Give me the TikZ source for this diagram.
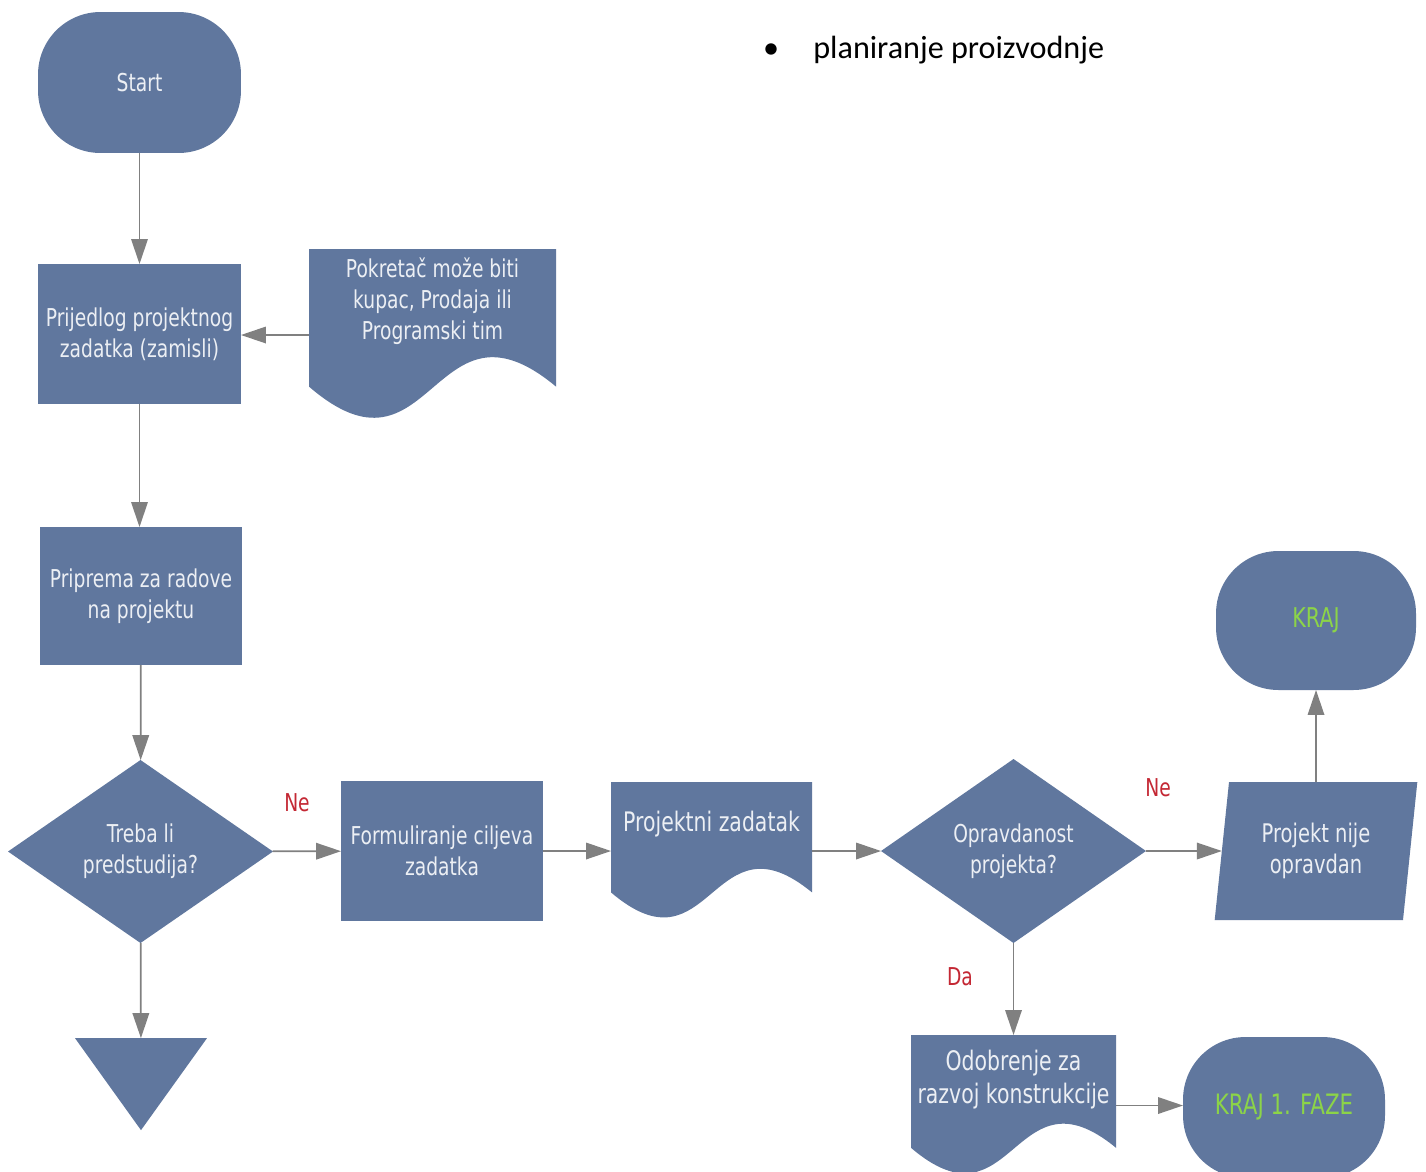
\documentclass[tikz,border=0pt]{standalone}
\usepackage{fontspec}
\newfontfamily\boxfont[FakeStretch=0.76]{DejaVu Sans}
\newfontfamily\bodyfont{Carlito}
\usetikzlibrary{arrows.meta,calc,shapes.geometric}

\definecolor{boxblue}{RGB}{96,119,158}
\definecolor{boxtext}{RGB}{236,239,244}
\definecolor{endgreen}{RGB}{140,212,72}
\definecolor{labelred}{RGB}{196,40,52}
\definecolor{linegray}{RGB}{128,128,128}

\newcommand\boxsize{\boxfont\fontsize{14}{17.8}\selectfont}
\newcommand\bigbox{\boxfont\fontsize{15.3}{18.6}\selectfont}
% Dokument mit Welle unten (Einheitsquadrat)
\newcommand\docwave{(0,0) -- (1,0) -- (1,.8) .. controls (.5,.2) and (.5,1.42) .. (0,.8) -- cycle}

\tikzset{
  base/.style={fill=boxblue, text=boxtext, font=\boxsize, align=center, inner sep=0pt, outer sep=0pt},
  terminal/.style={base, rectangle, rounded corners=1.25cm, minimum width=4.06cm, minimum height=2.82cm},
  process/.style={base, rectangle, minimum width=4.06cm, minimum height=2.8cm},
  decision/.style={base, diamond, minimum width=5.3cm, minimum height=3.66cm},
  inout/.style={base, trapezium, trapezium left angle=81, trapezium right angle=99,
    trapezium stretches=true, minimum width=4.08cm, minimum height=2.76cm},
  offpage/.style={base, isosceles triangle, isosceles triangle stretches, shape border rotate=-90,
    minimum width=2.64cm, minimum height=1.84cm},
  docbox/.style={rectangle, inner sep=0pt, outer sep=0pt},
  doctext/.style={text=boxtext, font=\boxsize, align=center, inner sep=0pt},
  answer/.style={text=labelred, font=\boxsize, inner sep=0pt},
  flow/.style={draw=linegray, line width=1pt, -{Triangle[length=5mm,width=3.3mm]}},
}

\begin{document}
\begin{tikzpicture}[x=0.02cm,y=-0.02cm]
  \clip (0,0) rectangle (1426,1171);
  \fill[white] (0,0) rectangle (1426,1171);

  % Text oben rechts
  \node[font=\bodyfont\fontsize{18.3}{22}\selectfont, anchor=base, inner sep=0pt] (bullet) at (771,58) {•};
  \node[font=\bodyfont\fontsize{18.3}{22}\selectfont, anchor=base west, inner sep=0pt] (plan) at (813,58) {planiranje proizvodnje};

  % linke Spalte
  \node[terminal] (start) at (139.5,82.5) {Start};
  \node[process] (prijedlog) at (139.5,334) {Prijedlog projektnog\\zadatka (zamisli)};
  \node[process, minimum width=4.04cm, minimum height=2.76cm] (priprema) at (141,596) {Priprema za radove\\na projektu};
  \node[decision] (predstudija) at (140.5,851.5) {Treba li\\predstudija?};
  \node[offpage] (trokut) at (141,1072) {};

  % Dokument: Pokretac
  \node[docbox, minimum width=4.94cm, minimum height=3.44cm] (pokretac) at (432.5,335) {};
  \fill[boxblue, shift={(pokretac.north west)}, xscale=247, yscale=172] \docwave;
  \node[doctext] (pokretac-t) at ($(pokretac)+(0,-34)$) {Pokretač može biti\\kupac, Prodaja ili\\Programski tim};

  % mittlere Reihe
  \node[process, minimum width=4.04cm] (formuliranje) at (442,851) {Formuliranje ciljeva\\zadatka};
  \node[docbox, minimum width=4.02cm, minimum height=2.76cm] (projektni) at (711.5,851) {};
  \fill[boxblue, shift={(projektni.north west)}, xscale=201, yscale=138] \docwave;
  \node[doctext, font=\bigbox] (projektni-t) at ($(projektni)+(0,-27)$) {Projektni zadatak};
  \node[decision, minimum height=3.68cm] (opravdanost) at (1013.5,851) {Opravdanost\\projekta?};
  \node[inout, font=\boxfont\fontsize{14.6}{18}\selectfont] (nije) at (1316,851) {Projekt nije\\opravdan};
  \node[terminal, minimum width=4cm, minimum height=2.78cm, text=endgreen, font=\boxfont\fontsize{15.5}{18}\selectfont] (kraj) at (1316,620.5) {KRAJ};

  % unten rechts
  \node[docbox, minimum width=4.1cm, minimum height=2.82cm] (odobrenje) at (1013.5,1105.5) {};
  \fill[boxblue, shift={(odobrenje.north west)}, xscale=205, yscale=141] \docwave;
  \node[doctext, font=\bigbox] (odobrenje-t) at ($(odobrenje)+(0,-26)$) {Odobrenje za\\razvoj konstrukcije};
  \node[terminal, minimum width=4.04cm, text=endgreen, font=\boxfont\fontsize{16}{18}\selectfont] (kraj1) at (1284,1107.5) {KRAJ 1. FAZE};

  % Beschriftungen
  \node[answer] (ne1) at (297,803) {Ne};
  \node[answer] (ne2) at (1158,788) {Ne};
  \node[answer] (da) at (960,977) {Da};

  % Verbindungen
  \draw[flow] (start) -- (prijedlog);
  \draw[flow] (pokretac.west) -- (pokretac.west -| prijedlog.east);
  \draw[flow] (prijedlog.south) -- (prijedlog.south |- priprema.north);
  \draw[flow] (priprema) -- (predstudija);
  \draw[flow] (predstudija) -- (trokut);
  \draw[flow] (predstudija) -- (formuliranje);
  \draw[flow] (formuliranje) -- (projektni);
  \draw[flow] (projektni) -- (opravdanost);
  \draw[flow] (opravdanost) -- (nije);
  \draw[flow] (nije) -- (kraj);
  \draw[flow] (opravdanost) -- (odobrenje);
  \draw[flow] (odobrenje.east) -- (odobrenje.east -| kraj1.west);
\end{tikzpicture}
\end{document}
